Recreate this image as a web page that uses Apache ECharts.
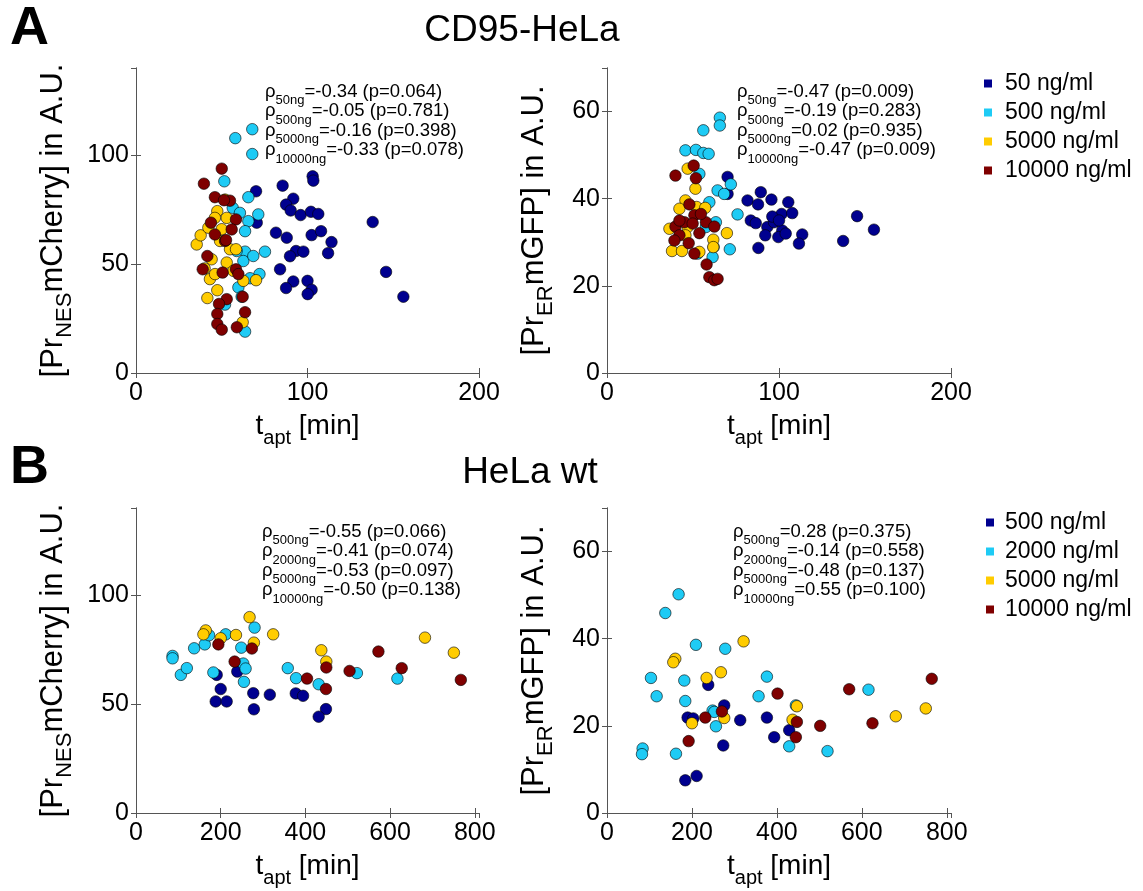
<!DOCTYPE html>
<html>
<head>
<meta charset="utf-8">
<script src="https://cdn.jsdelivr.net/npm/echarts@6/dist/echarts.min.js"></script>
<style>html,body{margin:0;padding:0;background:#fff}#c{width:1143px;height:891px}</style>
</head>
<body>
<div id="c"></div>
<script>
// ---------- DATA ----------
// Panel A left: CD95-HeLa, [Pr_NES mCherry] vs t_apt
const aL50 = [[103,90.3],[103.4,88.3],[85.5,86],[70,83.4],[91.7,80],[87.5,77.3],[90.2,74.6],[96,72.5],[102,74],[106.3,73],[138,69.3],[70.4,69],[81.6,64.4],[87.9,62.1],[102.4,63.3],[107.9,65.1],[114,60.1],[112,55],[93.3,56],[97.6,55.7],[89.8,53.6],[84,47.6],[145.8,46.4],[91.7,42],[87.5,39],[100,42.3],[102.4,38.2],[100.1,36.2],[155.9,35]];
const aL500 = [[57.9,107.8],[67.8,111.9],[67.8,100.5],[51.5,88],[65.5,80.7],[71.3,72.8],[65.5,69.7],[63.6,65.1],[75.2,55.7],[63.6,55.7],[58.7,56],[62.6,51.4],[72,45.4],[59.7,39.3],[51.9,31.4],[63.6,19],[56.4,75.8],[60.6,73.5],[61.6,35],[68.4,53.7],[66.5,43.5]];
const aL5000 = [[35.4,59],[37.7,63.2],[42.2,66.7],[47.4,74.3],[52.9,71.2],[49,60.6],[54.8,56.8],[44.1,52.2],[52.9,50.7],[43.1,43.1],[47.4,38],[41.6,34.4],[62.6,42.3],[70,42.6],[62.2,23.3],[56.8,46.9],[46.1,45.4],[58.3,56.8],[51.9,79.6],[46,71.2],[50,66],[40,48]];
const aL10000 = [[50,93.8],[39.6,86.9],[46,80.7],[54.8,79.1],[58.3,70.5],[43.7,69],[46,63.6],[51.9,60.6],[55.8,65.9],[41.6,53.7],[38.9,47.6],[50.5,46.1],[58.3,47.6],[59.7,45.4],[52.9,33.9],[48.4,31.7],[62.2,35],[47.4,27.1],[63.6,27.9],[47.4,22.5],[50,19.9],[58.8,21],[51.3,79.3],[52.5,61]];
// Panel A right: CD95-HeLa, [Pr_ER mGFP] vs t_apt
const aR50 = [[70.1,45],[70.1,41.1],[89.4,41.5],[81.7,39.6],[87.8,38.7],[95.6,39.8],[105.4,39.2],[101.5,36.5],[107.7,36.7],[145.4,36],[83.6,35],[86.5,34.4],[93.2,33.5],[97.1,34.6],[101.9,32.7],[99.6,31.2],[103.9,32],[92,31.6],[113.5,31.8],[111.6,29.7],[88,28.7],[137.3,30.3],[155.2,32.9],[96.1,35.9],[100,35]];
const aR500 = [[65.6,58.6],[65.6,56.8],[56,55.7],[45.6,51.1],[51.7,51.2],[56,50.5],[59.1,50.3],[64.3,41.9],[68.1,41.1],[72,43.3],[59.5,39.2],[75.9,36.4],[63.3,34.6],[71.4,28.4],[62,28.9],[61.4,26.6],[52.7,27.4],[53.7,45.7],[54.6,37.5],[57.5,33.5]];
const aR5000 = [[46.9,46.9],[51.4,42.3],[45.6,39.6],[42.1,37.7],[52.1,38.1],[57.1,37.9],[36.3,33.1],[69.7,32.1],[61.8,30.6],[61.8,28.9],[37.8,28],[43.6,28],[53.7,27.8],[46.9,33.5],[45.6,31.6]];
const aR10000 = [[50.4,47.6],[39.8,45.3],[51.7,44.7],[47.9,38.7],[50.8,36.2],[39.8,33.6],[42.1,31.6],[45,34.6],[49.8,34.3],[57.5,34.6],[62.4,33.6],[53.7,32.1],[47.5,29.8],[50.8,27.4],[57.9,24.9],[59.5,22],[62.4,21.3],[64.3,21.6],[42.1,35],[54.6,36.5],[39.2,30.4]];
// Panel B left: HeLa wt, mCherry
const bL500 = [[190.6,63.4],[239.2,64.9],[200,56.9],[188.2,51.2],[214.1,51.2],[276.9,55],[278.4,47.6],[316,54.3],[377.3,54.9],[394.5,53.8],[448.6,47.7],[431.4,44.2]];
const bL2000 = [[86.3,72.1],[86.3,71],[105.9,63.4],[120,66.5],[137.3,75.6],[162.4,77.4],[172.5,81.6],[211.8,82],[248.6,75.9],[280,85.1],[182.7,64.5],[253.3,68.6],[258.8,66.3],[254.9,60.2],[358.4,66.5],[378,61.9],[431.4,59.1],[521.6,64.2],[617.3,61.7]];
const bL5000 = [[164.7,83.8],[159.2,82],[200,80.2],[236.1,81.7],[268.2,89.9],[278.4,78.2],[323.9,82],[437.6,74.7],[449.4,69.5],[682.4,80.5],[750.6,73.6]];
const bL10000 = [[194.5,77.4],[232.9,69.5],[273.7,75.5],[403.9,61.7],[449.4,66.8],[448.6,56.9],[504.3,65.2],[572.5,74.1],[627.5,66.5],[767.1,61.1]];
// Panel B right: HeLa wt, mGFP
const bR500 = [[238.4,29.4],[276,24.7],[189.8,21.9],[203.1,21.7],[313.7,21.3],[376.5,21.9],[393.7,17.4],[429,19],[273.7,15.5],[184.3,7.5],[211,8.5]];
const bR2000 = [[168.6,50.2],[137.3,45.9],[209.4,38.6],[278.4,37.7],[103.5,31],[182,30.4],[116.9,26.8],[184.3,25.7],[248.6,23.5],[252.5,23.2],[256.5,19.9],[376.5,31.3],[356.9,26.8],[615.7,28.3],[83.9,14.8],[82.4,13.5],[162.4,13.6],[429,15.3],[519.2,14.2],[444.7,24.7]];
const bR5000 = [[160.8,35.4],[156.1,34.6],[234.5,31],[268.2,32.3],[321.6,39.4],[200,20.6],[276,21.8],[447.1,24.5],[436.9,21.4],[680,22.2],[750.6,24]];
const bR10000 = [[231.4,21.9],[270.6,23.3],[192.2,16.5],[401.6,27.4],[447.1,20.9],[444.7,17.4],[502,20],[570.2,28.4],[625.1,20.6],[764.7,30.8]];

const namesA = ['50 ng/ml','500 ng/ml','5000 ng/ml','10000 ng/ml'];
const namesB = ['500 ng/ml','2000 ng/ml','5000 ng/ml','10000 ng/ml'];
const subsA = ['50ng','500ng','5000ng','10000ng'];
const subsB = ['500ng','2000ng','5000ng','10000ng'];
const statsAL = ['=-0.34 (p=0.064)','=-0.05 (p=0.781)','=-0.16 (p=0.398)','=-0.33 (p=0.078)'];
const statsAR = ['=-0.47 (p=0.009)','=-0.19 (p=0.283)','=0.02 (p=0.935)','=-0.47 (p=0.009)'];
const statsBL = ['=-0.55 (p=0.066)','=-0.41 (p=0.074)','=-0.53 (p=0.097)','=-0.50 (p=0.138)'];
const statsBR = ['=0.28 (p=0.375)','=-0.14 (p=0.558)','=-0.48 (p=0.137)','=0.55 (p=0.100)'];

// ---------- STYLE ----------
const FONT = 'Liberation Sans, Arial, Helvetica, sans-serif';
const colors = ['#00008f','#1ecbf5','#ffcc00','#7f0000'];
const AX = '#555';

const grids = [
  {left:136, top:68, width:343, height:305},
  {left:607, top:68, width:344, height:305},
  {left:136, top:508, width:343, height:305},
  {left:607, top:508, width:344, height:305}
];
const xRanges = [[0,200,100],[0,200,100],[0,810,200],[0,810,200]];
const yRanges = [[0,140,50],[0,70,20],[0,140,50],[0,70,20]];
const yNameGaps = [70,60,70,60];
const yNames = ['{m|[Pr}{s|NES}{m|mCherry] in A.U.}','{m|[Pr}{s|ER}{m|mGFP] in A.U.}','{m|[Pr}{s|NES}{m|mCherry] in A.U.}','{m|[Pr}{s|ER}{m|mGFP] in A.U.}'];

const xAxes = [], yAxes = [];
grids.forEach((g,i)=>{
  const [x0,x1,xi] = xRanges[i], [y0,y1,yi] = yRanges[i];
  const line = {show:true, lineStyle:{color:AX, width:1}};
  const tick = {show:true, inside:true, length:5, lineStyle:{color:AX, width:1}};
  xAxes.push({gridIndex:i, type:'value', position:'bottom', min:x0, max:x1, interval:xi,
    axisLine:line, axisTick:tick, splitLine:{show:false},
    axisLabel:{color:'#000', fontSize:25, fontFamily:FONT, margin:8, showMaxLabel: x1 % xi === 0,
      formatter: v => (v % xi === 0 ? String(v) : '')},
    name:'{m|t}{s|apt}{m| [min]}', nameLocation:'middle', nameGap:39,
    nameTextStyle:{rich:{
      m:{fontSize:28, fontFamily:FONT, color:'#000', lineHeight:26, verticalAlign:'top'},
      s:{fontSize:20, fontFamily:FONT, color:'#000', lineHeight:18, padding:[16,0,0,0], verticalAlign:'top'}}}
  });
  xAxes.push({gridIndex:i, type:'value', position:'top', min:x0, max:x1, interval:xi,
    axisLine:line, axisTick:tick, splitLine:{show:false}, axisLabel:{show:false}});
  yAxes.push({gridIndex:i, type:'value', position:'left', min:y0, max:y1, interval:yi,
    axisLine:line, axisTick:tick, splitLine:{show:false},
    axisLabel:{color:'#000', fontSize:25, fontFamily:FONT, margin:7, showMaxLabel:false},
    name:yNames[i], nameLocation:'middle', nameGap:yNameGaps[i], nameRotate:90,
    nameTextStyle:{rich:{
      m:{fontSize:31, fontFamily:FONT, color:'#000', lineHeight:28, verticalAlign:'top'},
      s:{fontSize:22, fontFamily:FONT, color:'#000', lineHeight:20, padding:[16,0,0,0], verticalAlign:'top'}}}
  });
  yAxes.push({gridIndex:i, type:'value', position:'right', min:y0, max:y1, interval:yi,
    axisLine:line, axisTick:tick, splitLine:{show:false}, axisLabel:{show:false}});
});

const panelData = [
  [aL50,aL500,aL5000,aL10000],
  [aR50,aR500,aR5000,aR10000],
  [bL500,bL2000,bL5000,bL10000],
  [bR500,bR2000,bR5000,bR10000]
];
const series = [];
panelData.forEach((arrs,i)=>{
  const names = i < 2 ? namesA : namesB;
  arrs.forEach((d,k)=>{
    series.push({type:'scatter', name:names[k], xAxisIndex:2*i, yAxisIndex:2*i, data:d,
      symbol:'circle', symbolSize:11.5, animation:false,
      itemStyle:{color:colors[k], borderColor:'#000', borderWidth:0.6, opacity:1},
      emphasis:{disabled:true}});
  });
});

function annot(x, y, subs, stats){
  const lines = subs.map((s,k)=>'{r|ρ}{s|'+s+'}{r|'+stats[k]+'}').join('\n');
  return {type:'text', x:x, y:y, silent:true, z:100,
    style:{text:lines, fill:'#000',
      rich:{
        r:{fontSize:18.5, fontFamily:FONT, fill:'#000', color:'#000', lineHeight:19.5, verticalAlign:'top'},
        s:{fontSize:13, fontFamily:FONT, fill:'#000', color:'#000', lineHeight:2, padding:[12,0,0,0], verticalAlign:'top'}
      }}};
}
function plain(text, x, y, size, bold, align){
  return {type:'text', x:x, y:y, silent:true,
    style:{text:text, fill:'#000', font:(bold?'bold ':'')+size+'px '+FONT, align:align||'left', verticalAlign:'middle'}};
}

const legendCommon = {orient:'vertical', icon:'rect', itemWidth:8, itemHeight:8, itemGap:6,
  selectedMode:false, textStyle:{fontSize:23, fontFamily:FONT, color:'#000', lineHeight:23}};

const option = {
  animation:false,
  grid:grids,
  xAxis:xAxes,
  yAxis:yAxes,
  series:series,
  legend:[
    Object.assign({}, legendCommon, {left:979, top:67, textStyle:Object.assign({}, legendCommon.textStyle, {padding:[0,0,0,8]}),
      data:namesA.map((n,k)=>({name:n, itemStyle:{color:colors[k], borderWidth:0}}))}),
    Object.assign({}, legendCommon, {left:981, top:506, textStyle:Object.assign({}, legendCommon.textStyle, {padding:[0,0,0,6]}),
      data:namesB.map((n,k)=>({name:n, itemStyle:{color:colors[k], borderWidth:0}}))})
  ],
  graphic:[
    plain('A', 10, 29, 54, true),
    plain('CD95-HeLa', 522, 31, 37, false, 'center'),
    plain('B', 10, 468, 54, true),
    plain('HeLa wt', 530, 473, 37, false, 'center'),
    annot(265, 82, subsA, statsAL),
    annot(737, 82, subsA, statsAR),
    annot(262, 522, subsB, statsBL),
    annot(733, 522, subsB, statsBR)
  ]
};
const chart = echarts.init(document.getElementById('c'), null, {renderer:'canvas'});
chart.setOption(option);
</script>
</body>
</html>
